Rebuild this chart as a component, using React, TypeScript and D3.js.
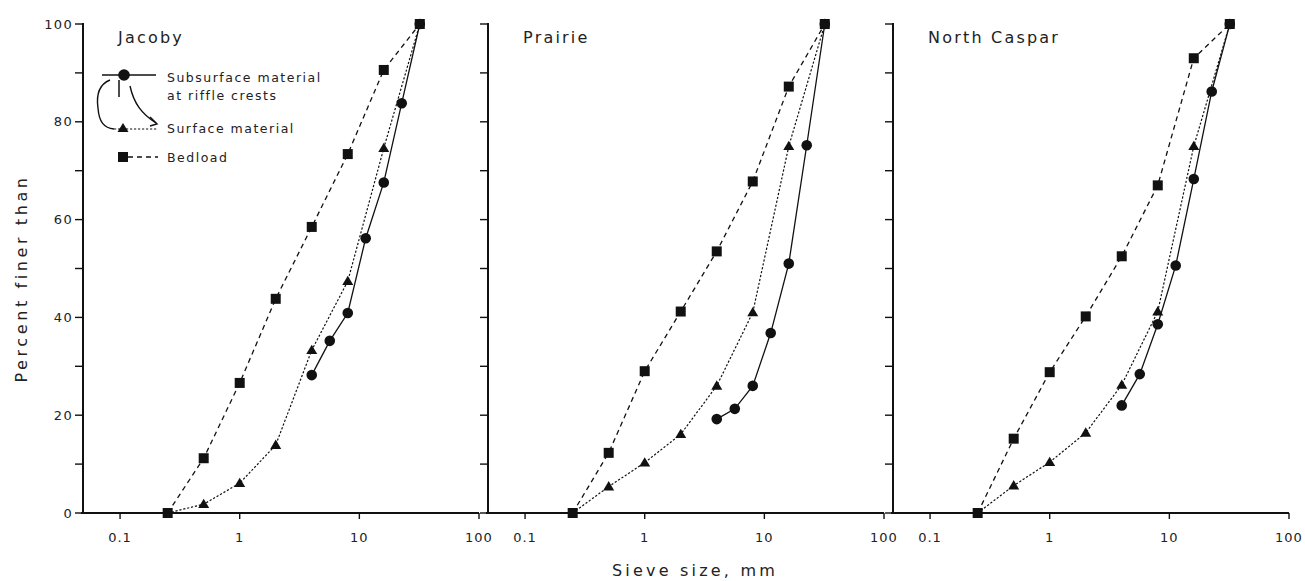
import React from "react";
import * as d3 from "d3";

const panelNames = ["Jacoby", "Prairie", "North Caspar"];

const bedloadSizes = [0.25, 0.5, 1, 2, 4, 8, 16, 32];
const surfaceSizes = [0.25, 0.5, 1, 2, 4, 8, 16, 32];
const subsurfaceSizes = [4, 5.66, 8, 11.3, 16, 22.6, 32];

const jacobyBedload = [0, 11.2, 26.6, 43.8, 58.5, 73.4, 90.6, 100];
const jacobySurface = [0, 1.8, 6.1, 13.9, 33.3, 47.4, 74.6, 100];
const jacobySubsurface = [28.2, 35.2, 40.9, 56.2, 67.6, 83.8, 100];

const prairieBedload = [0, 12.3, 29, 41.2, 53.5, 67.8, 87.2, 100];
const prairieSurface = [0, 5.4, 10.3, 16.1, 26, 41, 75, 100];
const prairieSubsurface = [19.2, 21.3, 26, 36.8, 51, 75.2, 100];

const casparBedload = [0, 15.2, 28.8, 40.2, 52.5, 67, 93, 100];
const casparSurface = [0, 5.6, 10.4, 16.4, 26.2, 41.2, 75, 100];
const casparSubsurface = [22, 28.4, 38.6, 50.6, 68.3, 86.2, 100];

const panelBedload = [jacobyBedload, prairieBedload, casparBedload];
const panelSurface = [jacobySurface, prairieSurface, casparSurface];
const panelSubsurface = [jacobySubsurface, prairieSubsurface, casparSubsurface];

const xTickValues = [0.1, 1, 10, 100];
const xTickLabels = ["0.1", "1", "10", "100"];
const yMajorTicks = [0, 20, 40, 60, 80, 100];
const yMinorTicks = [10, 30, 50, 70, 90];

const legendLabels = ["Subsurface material", "at riffle crests", "Surface material", "Bedload"];
const xTitle = "Sieve size, mm";
const yTitle = "Percent finer than";

const INK = "#111";
const TXT = "#222";
const FONT = "'DejaVu Sans', 'Liberation Sans', sans-serif";

const W = 1305;
const H = 581;
const top = 24;
const bottom = 513;
const panelStep = 405;
const firstAxisX = 83;
const panelWidth = 396;

function Square({ x, y }: { x: number; y: number }) {
  return <rect x={x - 5} y={y - 5} width={10} height={10} fill={INK} />;
}
function Circle({ x, y }: { x: number; y: number }) {
  return <circle cx={x} cy={y} r={5.3} fill={INK} />;
}
function Tri({ x, y }: { x: number; y: number }) {
  const s = 5.5;
  return <path d={`M${x},${y - s} L${x + s},${y + s * 0.7} L${x - s},${y + s * 0.7} Z`} fill={INK} />;
}

function Panel({ i }: { i: number }) {
  const x0 = firstAxisX + i * panelStep;
  const x = d3.scaleLog().domain([0.049, 100]).range([x0, x0 + panelWidth]);
  const y = d3.scaleLinear().domain([0, 100]).range([bottom, top]);
  const line = d3
    .line<[number, number]>()
    .x((d) => x(d[0]))
    .y((d) => y(d[1]));
  const bed = bedloadSizes.map((s, k) => [s, panelBedload[i][k]] as [number, number]);
  const sur = surfaceSizes.map((s, k) => [s, panelSurface[i][k]] as [number, number]);
  const sub = subsurfaceSizes.map((s, k) => [s, panelSubsurface[i][k]] as [number, number]);
  return (
    <g>
      <line x1={x0} x2={x0} y1={top - 1} y2={bottom + 1} stroke={INK} strokeWidth={2} />
      <line x1={x0 - 2} x2={x0 + panelWidth} y1={bottom} y2={bottom} stroke={INK} strokeWidth={2} />
      {yMajorTicks.concat(yMinorTicks).map((t) => (
        <line key={"yt" + t} x1={x0 - 8} x2={x0} y1={y(t)} y2={y(t)} stroke={INK} strokeWidth={1.4} />
      ))}
      {i === 0 &&
        yMajorTicks.map((t) => (
          <text key={"yl" + t} x={x0 - 10} y={y(t)} dy="0.35em" textAnchor="end" fontSize={13} fontFamily={FONT} fill={TXT} letterSpacing={1.3}>
            {t}
          </text>
        ))}
      {xTickValues.map((t, k) => (
        <g key={"xt" + t}>
          <line x1={x(t)} x2={x(t)} y1={bottom} y2={bottom + 6} stroke={INK} strokeWidth={1.4} />
          <text x={x(t)} y={bottom + 29} textAnchor="middle" fontSize={13} fontFamily={FONT} fill={TXT} letterSpacing={1}>
            {xTickLabels[k]}
          </text>
        </g>
      ))}
      <text x={x(0.1) - 2} y={43} fontSize={16} fontFamily={FONT} fill={TXT} letterSpacing={2.2}>
        {panelNames[i]}
      </text>
      <path d={line(bed) || ""} fill="none" stroke={INK} strokeWidth={1.3} strokeDasharray="5,4" />
      <path d={line(sur) || ""} fill="none" stroke={INK} strokeWidth={1.2} strokeDasharray="2.2,1.8" />
      <path d={line(sub) || ""} fill="none" stroke={INK} strokeWidth={1.3} />
      {bed.map((d, k) => (
        <Square key={"b" + k} x={x(d[0])} y={y(d[1])} />
      ))}
      {sur.slice(0, sur.length - 1).map((d, k) =>
        k === 0 ? null : <Tri key={"s" + k} x={x(d[0])} y={y(d[1])} />
      )}
      {sub.map((d, k) => (
        <Circle key={"c" + k} x={x(d[0])} y={y(d[1])} />
      ))}
    </g>
  );
}

function Legend() {
  const tx = 167;
  return (
    <g fontFamily={FONT} fontSize={12.5} fill={TXT} letterSpacing={1.5}>
      <line x1={102} x2={156} y1={75} y2={75} stroke={INK} strokeWidth={1.4} />
      <circle cx={124} cy={75} r={5.8} fill={INK} />
      <line x1={119} x2={119} y1={80} y2={97} stroke={INK} strokeWidth={1.5} />
      <path d="M110,80 C100,84 96,94 98,108 C99,122 104,128 114,129" fill="none" stroke={INK} strokeWidth={1.4} />
      <path d="M130,86 C134,104 142,114 156,123" fill="none" stroke={INK} strokeWidth={1.4} />
      <path d="M150,117 L157,124 L150,126" fill="none" stroke={INK} strokeWidth={1.4} />
      <line x1={114} x2={158} y1={129} y2={129} stroke={INK} strokeWidth={1.2} strokeDasharray="2.2,1.8" />
      <path d="M123,123 L128.5,132 L117.5,132 Z" fill={INK} />
      <rect x={118} y={152} width={10} height={10} fill={INK} />
      <line x1={128} x2={158} y1={157} y2={157} stroke={INK} strokeWidth={1.3} strokeDasharray="5,4" />
      <text x={tx} y={82}>{legendLabels[0]}</text>
      <text x={tx} y={100}>{legendLabels[1]}</text>
      <text x={tx} y={133}>{legendLabels[2]}</text>
      <text x={tx} y={162}>{legendLabels[3]}</text>
    </g>
  );
}

export default function App() {
  return (
    <svg width={W} height={H} style={{ position: "absolute", left: 0, top: 0, background: "#fff" }}>
      <rect width={W} height={H} fill="#fff" />
      {[0, 1, 2].map((i) => (
        <Panel key={i} i={i} />
      ))}
      <Legend />
      <text
        transform={`translate(27,${(top + bottom) / 2 + 10}) rotate(-90)`}
        textAnchor="middle"
        fontSize={16}
        fontFamily={FONT}
        fill={TXT}
        letterSpacing={3.6}
      >
        {yTitle}
      </text>
      <text x={695} y={576} textAnchor="middle" fontSize={16} fontFamily={FONT} fill={TXT} letterSpacing={3.2}>
        {xTitle}
      </text>
    </svg>
  );
}
